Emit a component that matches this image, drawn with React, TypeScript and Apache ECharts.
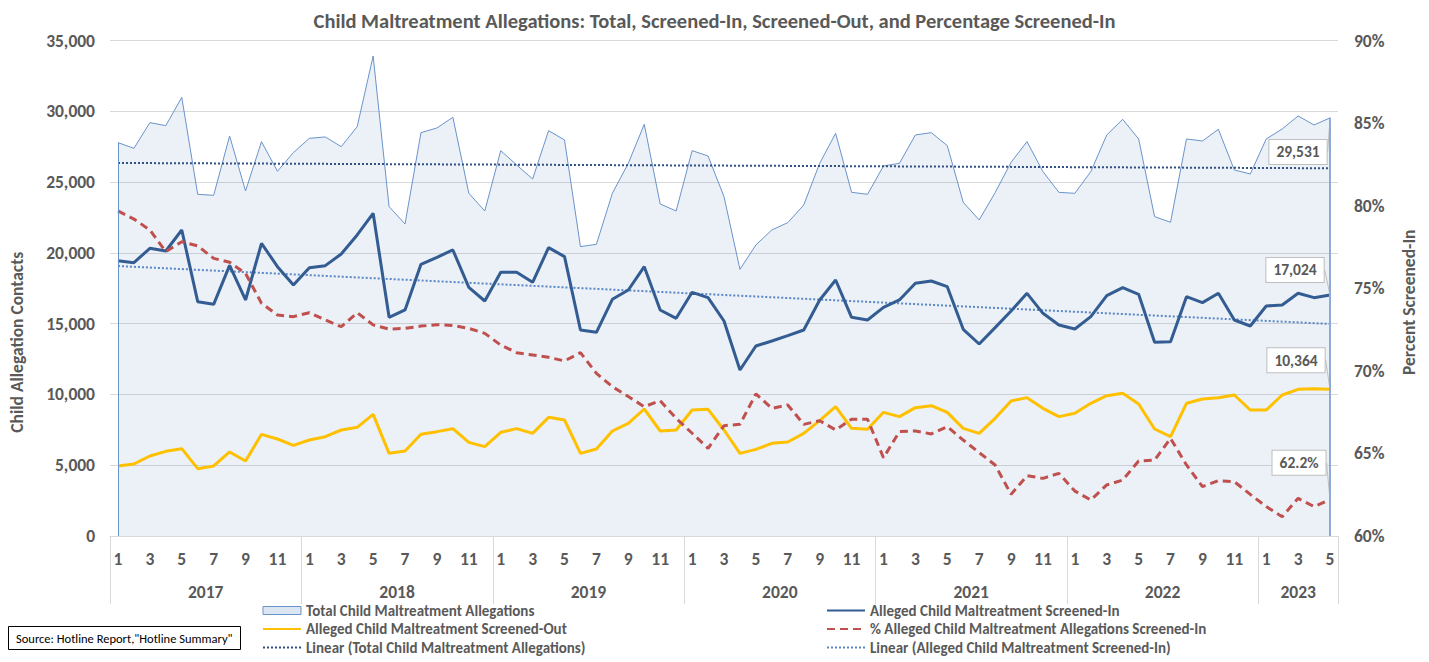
import React, { useEffect, useRef } from "react";
import * as echarts from "echarts";

const years = [2017, 2018, 2019, 2020, 2021, 2022, 2023];
const monthsInYear = [12, 12, 12, 12, 12, 12, 5];

const totalAllegations = [
  27786, 27384, 29199, 28986, 30987, 24135, 24065, 28256, 24371, 27855, 25761, 27079,
  28091, 28185, 27502, 28915, 33907, 23264, 22040, 28491, 28821, 29575, 24206, 22958,
  27219, 26207, 25218, 28632, 27973, 20439, 20604, 24206, 26325, 29082, 23452, 22958,
  27219, 26843, 23970, 18837, 20556, 21616, 22134, 23382, 26325, 28444, 24276, 24135,
  26137, 26325, 28327, 28491, 27573, 23570, 22322, 24253, 26396, 27855, 25736, 24276,
  24206, 25736, 28327, 29432, 28045, 22558, 22158, 28045, 27903, 28727, 25854, 25572,
  28045, 28750, 29669, 29033, 29531,
];

const screenedIn = [
  19450, 19309, 20322, 20132, 21616, 16553, 16365, 19120, 16671, 20675, 19026, 17731,
  18955, 19097, 19921, 21263, 22794, 15446, 15965, 19191, 19686, 20203, 17566, 16600,
  18625, 18625, 17919, 20368, 19733, 14552, 14387, 16718, 17377, 19026, 15965, 15375,
  17212, 16835, 15188, 11726, 13422, 13775, 14152, 14552, 16671, 18084, 15446, 15258,
  16152, 16671, 17848, 18013, 17613, 14599, 13563, 14717, 15894, 17142, 15729, 14905,
  14622, 15493, 16977, 17542, 17071, 13681, 13728, 16906, 16482, 17142, 15258, 14834,
  16247, 16318, 17142, 16835, 17024,
];

const screenedOut = [
  4945, 5086, 5651, 5980, 6169, 4757, 4945, 5934, 5298, 7182, 6852, 6404,
  6781, 7017, 7488, 7676, 8594, 5839, 6004, 7182, 7371, 7582, 6616, 6310,
  7323, 7582, 7252, 8383, 8194, 5839, 6146, 7417, 7959, 8971, 7417, 7488,
  8901, 8947, 7488, 5839, 6122, 6545, 6640, 7252, 8147, 9136, 7605, 7534,
  8736, 8430, 9066, 9207, 8736, 7605, 7252, 8312, 9536, 9772, 9018, 8430,
  8665, 9372, 9914, 10078, 9325, 7558, 7017, 9372, 9678, 9772, 9960, 8901,
  8901, 9960, 10361, 10400, 10364,
];

const pctScreenedIn = [
  79.68, 79.19, 78.53, 77.21, 77.82, 77.56, 76.81, 76.57, 75.9, 74.09, 73.38, 73.28,
  73.52, 73.08, 72.67, 73.52, 72.78, 72.53, 72.57, 72.71, 72.79, 72.75, 72.57, 72.27,
  71.56, 71.1, 70.96, 70.82, 70.6, 71.1, 69.85, 69.04, 68.44, 67.83, 68.19, 67.12,
  66.22, 65.31, 66.68, 66.76, 68.6, 67.73, 67.93, 66.76, 66.98, 66.42, 67.07, 67.07,
  64.74, 66.32, 66.36, 66.18, 66.62, 65.81, 65.05, 64.3, 62.52, 63.65, 63.49, 63.79,
  62.72, 62.18, 63.09, 63.39, 64.54, 64.6, 65.91, 64.3, 62.99, 63.35, 63.29, 62.52,
  61.78, 61.17, 62.28, 61.78, 62.2,
];

// Linear trendline end values
const trendTotal = [26350, 25975];
const trendScreenedIn = [19070, 14980];

const leftTicks = [0, 35000, 5000];
const rightTicks = [60, 90, 5];

const FONT = 'Carlito, Calibri, "Liberation Sans", Arial, sans-serif';
const GRAY = "#595959";
const TICK_FS = 17.5;
const NAME_FS = 17.5;

const categories: string[] = [];
const catMonth: number[] = [];
years.forEach((y, yi) => {
  for (let m = 1; m <= monthsInYear[yi]; m++) {
    categories.push(`${y}-${m}`);
    catMonth.push(m);
  }
});
const lastIdx = categories.length - 1;

const yearLabelIdx: Record<number, string> = {};
let start = 0;
years.forEach((y, yi) => {
  const n = monthsInYear[yi];
  if (n % 2 === 0) {
    yearLabelIdx[start + n / 2 - 1] = `{s|${y}}`;
  } else {
    yearLabelIdx[start + (n - 1) / 2] = `{c|${y}}`;
  }
  start += n;
});

const lastLabel = (fmt: (v: number) => string) => ({
  show: true,
  position: "inside",
  formatter: (p: any) => fmt(Array.isArray(p.value) ? p.value[1] : p.value),
  backgroundColor: "#ffffff",
  borderColor: "#bfbfbf",
  borderWidth: 1,
  padding: [5, 7, 3, 7],
  color: GRAY,
  fontFamily: FONT,
  fontSize: 15.5,
  fontWeight: "bold",
});

const withLastLabel = (arr: number[], fmt: (v: number) => string) =>
  arr.map((v, i) =>
    i === lastIdx
      ? { value: v, symbol: "circle", symbolSize: 1, label: lastLabel(fmt) }
      : v
  );

const fmtNum = (v: number) => Math.round(v).toLocaleString("en-US");

const legendText = { fontFamily: FONT, fontSize: 15, fontWeight: "bold", color: GRAY };
const hideSym = { opacity: 0 };

export default function App() {
  const ref = useRef<HTMLDivElement>(null);

  useEffect(() => {
    if (!ref.current) return;
    const chart = echarts.init(ref.current, undefined, { renderer: "svg" });

    const option: any = {
      animation: false,
      backgroundColor: "#ffffff",
      textStyle: { fontFamily: FONT },
      title: [
        {
          text:
            "Child Maltreatment Allegations: Total, Screened-In, Screened-Out, and Percentage Screened-In",
          left: "center",
          top: 5,
          textStyle: { fontFamily: FONT, fontSize: 20.5, fontWeight: "bold", color: GRAY },
        },
        {
          text: 'Source: Hotline Report,"Hotline Summary"',
          left: 8,
          top: 626,
          borderColor: "#000000",
          borderWidth: 1,
          padding: [6, 8, 5, 8],
          textStyle: { fontFamily: FONT, fontSize: 12.5, fontWeight: "normal", color: "#000000" },
        },
      ],
      grid: { left: 110, right: 91, top: 40.5, bottom: 126, containLabel: false },
      legend: [
        {
          orient: "vertical",
          left: 262,
          top: 603,
          padding: 0,
          itemGap: 3.5,
          itemWidth: 38,
          itemHeight: 8,
          textStyle: legendText,
          data: [
            {
              name: "Total Child Maltreatment Allegations",
              icon: "rect",
              itemStyle: { color: "#dce6f2", borderColor: "#6a93cb", borderWidth: 1 },
            },
            { name: "Alleged Child Maltreatment Screened-Out", itemStyle: hideSym },
            { name: "Linear (Total Child Maltreatment Allegations)", itemStyle: hideSym },
          ],
        },
        {
          orient: "vertical",
          left: 826,
          top: 603,
          padding: 0,
          itemGap: 3.5,
          itemWidth: 38,
          itemHeight: 8,
          textStyle: legendText,
          data: [
            { name: "Alleged Child Maltreatment Screened-In", itemStyle: hideSym },
            { name: "% Alleged Child Maltreatment Allegations Screened-In", itemStyle: hideSym },
            { name: "Linear (Alleged Child Maltreatment Screened-In)", itemStyle: hideSym },
          ],
        },
      ],
      xAxis: [
        {
          type: "category",
          data: categories,
          boundaryGap: true,
          position: "bottom",
          axisLine: { show: true, lineStyle: { color: "#d9d9d9", width: 1 } },
          axisTick: { show: false },
          axisLabel: {
            interval: 1,
            margin: 14,
            formatter: (v: string) => v.split("-")[1],
            color: GRAY,
            fontFamily: FONT,
            fontSize: TICK_FS,
            fontWeight: "bold",
          },
          splitLine: { show: false },
        },
        {
          type: "category",
          data: categories,
          boundaryGap: true,
          position: "bottom",
          axisLine: { show: false },
          axisTick: {
            show: true,
            interval: (i: number) => catMonth[i] === 1,
            length: 68,
            lineStyle: { color: "#d9d9d9", width: 1 },
          },
          axisLabel: {
            interval: (i: number) => yearLabelIdx[i] !== undefined,
            margin: 47,
            formatter: (_v: string, i: number) => yearLabelIdx[i] || "",
            color: GRAY,
            fontFamily: FONT,
            fontSize: TICK_FS,
            fontWeight: "bold",
            rich: {
              s: {
                padding: [0, 0, 0, 16],
                color: GRAY,
                fontFamily: FONT,
                fontSize: TICK_FS,
                fontWeight: "bold",
              },
              c: { color: GRAY, fontFamily: FONT, fontSize: TICK_FS, fontWeight: "bold" },
            },
          },
          splitLine: { show: false },
        },
      ],
      yAxis: [
        {
          type: "value",
          min: leftTicks[0],
          max: leftTicks[1],
          interval: leftTicks[2],
          name: "Child Allegation Contacts",
          nameLocation: "middle",
          nameGap: 84,
          nameRotate: 90,
          nameTextStyle: {
            fontFamily: FONT,
            fontSize: NAME_FS,
            fontWeight: "bold",
            color: GRAY,
            padding: [0, 108, 0, 0],
          },
          axisLine: { show: false },
          axisTick: { show: false },
          axisLabel: {
            margin: 15,
            color: GRAY,
            fontFamily: FONT,
            fontSize: TICK_FS,
            fontWeight: "bold",
            formatter: (v: number) => v.toLocaleString("en-US"),
          },
          splitLine: { show: true, lineStyle: { color: "#d9d9d9", width: 1 } },
        },
        {
          type: "value",
          min: rightTicks[0],
          max: rightTicks[1],
          interval: rightTicks[2],
          name: "Percent Screened-In",
          nameLocation: "middle",
          nameGap: 62,
          nameRotate: 90,
          nameTextStyle: {
            fontFamily: FONT,
            fontSize: NAME_FS,
            fontWeight: "bold",
            color: GRAY,
            padding: [0, 28, 0, 0],
          },
          axisLine: { show: false },
          axisTick: { show: false },
          axisLabel: {
            margin: 16,
            color: GRAY,
            fontFamily: FONT,
            fontSize: TICK_FS,
            fontWeight: "bold",
            formatter: (v: number) => `${v}%`,
          },
          splitLine: { show: false },
        },
      ],
      series: [
        {
          name: "Total Child Maltreatment Allegations",
          type: "line",
          xAxisIndex: 0,
          yAxisIndex: 0,
          data: withLastLabel(totalAllegations, fmtNum),
          symbol: "none",
          showSymbol: true,
          showAllSymbol: true,
          lineStyle: { color: "#6a93cb", width: 1 },
          itemStyle: { color: "#6a93cb" },
          areaStyle: { color: "rgba(79,129,189,0.16)" },
          labelLayout: { dx: -32, dy: 34 },
          labelLine: { show: true, lineStyle: { color: "#bfbfbf", width: 1 } },
          z: 1,
          markLine: {
            silent: true,
            symbol: "none",
            label: { show: false },
            data: [
              [
                { coord: [categories[0], 0], lineStyle: { color: "#6a93cb", width: 1, type: "solid" } },
                { coord: [categories[0], totalAllegations[0]] },
              ],
              [
                { coord: [categories[lastIdx], 0], lineStyle: { color: "#8eaadb", width: 2, type: "solid" } },
                { coord: [categories[lastIdx], totalAllegations[lastIdx]] },
              ],
            ],
          },
        },
        {
          name: "Alleged Child Maltreatment Screened-In",
          type: "line",
          yAxisIndex: 0,
          data: withLastLabel(screenedIn, fmtNum),
          symbol: "none",
          showSymbol: true,
          showAllSymbol: true,
          lineStyle: { color: "#335c92", width: 3 },
          itemStyle: { color: "#335c92" },
          labelLayout: { dx: -35, dy: -25 },
          labelLine: { show: true, lineStyle: { color: "#bfbfbf", width: 1 } },
          z: 4,
        },
        {
          name: "Alleged Child Maltreatment Screened-Out",
          type: "line",
          yAxisIndex: 0,
          data: withLastLabel(screenedOut, fmtNum),
          symbol: "none",
          showSymbol: true,
          showAllSymbol: true,
          lineStyle: { color: "#ffc000", width: 3 },
          itemStyle: { color: "#ffc000" },
          labelLayout: { dx: -34, dy: -29 },
          labelLine: { show: true, lineStyle: { color: "#bfbfbf", width: 1 } },
          z: 4,
        },
        {
          name: "% Alleged Child Maltreatment Allegations Screened-In",
          type: "line",
          yAxisIndex: 1,
          data: withLastLabel(pctScreenedIn, (v) => `${v.toFixed(1)}%`),
          symbol: "none",
          showSymbol: true,
          showAllSymbol: true,
          lineStyle: { color: "#c0504d", width: 3, type: [8, 5] },
          itemStyle: { color: "#c0504d" },
          labelLayout: { dx: -31, dy: -37 },
          labelLine: { show: true, lineStyle: { color: "#bfbfbf", width: 1 } },
          z: 4,
        },
        {
          name: "Linear (Total Child Maltreatment Allegations)",
          type: "line",
          yAxisIndex: 0,
          data: [
            [categories[0], trendTotal[0]],
            [categories[lastIdx], trendTotal[1]],
          ],
          symbol: "none",
          lineStyle: { color: "#2f4f7f", width: 2, type: [2, 2] },
          itemStyle: { color: "#2f4f7f" },
          z: 3,
        },
        {
          name: "Linear (Alleged Child Maltreatment Screened-In)",
          type: "line",
          yAxisIndex: 0,
          data: [
            [categories[0], trendScreenedIn[0]],
            [categories[lastIdx], trendScreenedIn[1]],
          ],
          symbol: "none",
          lineStyle: { color: "#5b87c5", width: 2, type: [2, 2] },
          itemStyle: { color: "#5b87c5" },
          z: 3,
        },
      ],
    };

    chart.setOption(option);
    return () => chart.dispose();
  }, []);

  return (
    <div
      ref={ref}
      style={{ position: "fixed", left: 0, top: 0, width: 1429, height: 662, overflow: "hidden" }}
    />
  );
}
